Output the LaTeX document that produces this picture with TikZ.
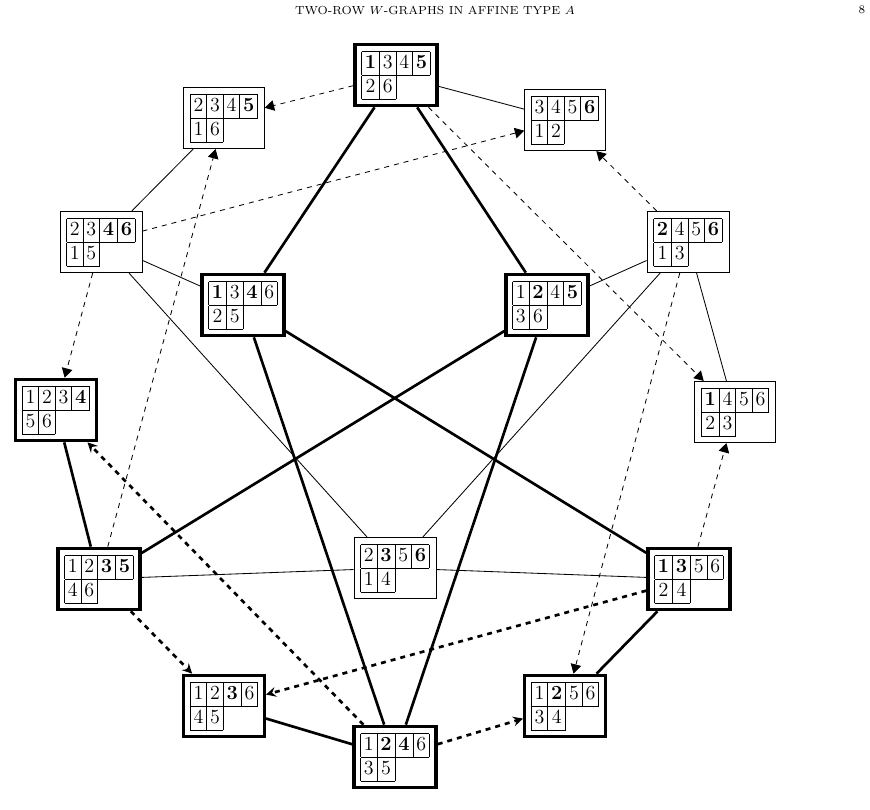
\documentclass[tikz,border=0pt]{standalone}
\usepackage{tikz}
\usetikzlibrary{arrows}
\usetikzlibrary{positioning}
\tikzset{tab/.style={draw=black,inner sep=4pt,line width=0.5pt,font=\large},
         btab/.style={tab,line width=2pt},
         thin/.style={line width=0.5pt},
         bold/.style={line width=1.6pt},
         dsh/.style={thin,dashed,-triangle 60},
         bdsh/.style={bold,dashed,-stealth}}
\newcommand{\tb}[6]{\setlength{\tabcolsep}{2pt}\begin{tabular}{|c|c|c|c|}\hline #1&#2&#3&#4\\\hline #5&#6\\\cline{1-2}\end{tabular}}
\newcommand{\B}[1]{\textbf{#1}}

\begin{document}
\begin{tikzpicture}[x=0.6pt,y=-0.6pt]
\useasboundingbox (0,0) rectangle (870,810);
\node at (435,10) {\scriptsize TWO-ROW $W$-GRAPHS IN AFFINE TYPE $A$};
\node at (862,10) {\scriptsize 8};

\node[btab](T) at (396,75){\tb{\B1}34{\B5}{2}{6}};
\node[tab](A) at (224,118){\tb234{\B5}{1}{6}};
\node[tab](B) at (565,120){\tb345{\B6}{1}{2}};
\node[tab](C) at (101,242){\tb23{\B4}{\B6}{1}{5}};
\node[tab](D) at (688,242){\tb{\B2}45{\B6}{1}{3}};
\node[btab](E) at (243,305){\tb{\B1}3{\B4}6{2}{5}};
\node[btab](F) at (547,305){\tb1{\B2}4{\B5}{3}{6}};
\node[btab](G) at (56,410){\tb123{\B4}{5}{6}};
\node[tab](H) at (735,412){\tb{\B1}456{2}{3}};
\node[tab](I) at (395,568){\tb2{\B3}5{\B6}{1}{4}};
\node[btab](J) at (99,579){\tb12{\B3}{\B5}{4}{6}};
\node[btab](K) at (689,579){\tb{\B1}{\B3}56{2}{4}};
\node[btab](L) at (224,706){\tb12{\B3}6{4}{5}};
\node[btab](M) at (565,706){\tb1{\B2}56{3}{4}};
\node[btab](N) at (395,757){\tb1{\B2}{\B4}6{3}{5}};

% thick edges
\draw[bold] (T)--(E);
\draw[bold] (T)--(F);
\draw[bold] (E)--(N);
\draw[bold] (F)--(N);
\draw[bold] (E)--(K);
\draw[bold] (F)--(J);
\draw[bold] (G)--(J);
\draw[bold] (K)--(M);
\draw[bold] (L)--(N);

% thin edges
\draw[thin] (T)--(B);
\draw[thin] (A)--(C);
\draw[thin] (C)--(E);
\draw[thin] (C)--(I);
\draw[thin] (D)--(F);
\draw[thin] (D)--(I);
\draw[thin] (D)--(H);
\draw[thin] (I)--(J);
\draw[thin] (I)--(K);

% dashed arrows
\draw[dsh] (T)--(A);
\draw[dsh] (C)--(B);
\draw[dsh] (T)--(H);
\draw[dsh] (D)--(B);
\draw[dsh] (J)--(A);
\draw[dsh] (C)--(G);
\draw[dsh] (D)--(M);
\draw[dsh] (K)--(H);
\draw[bdsh] (N)--(G);
\draw[bdsh] (J)--(L);
\draw[bdsh] (K)--(L);
\draw[bdsh] (N)--(M);
\end{tikzpicture}
\end{document}
